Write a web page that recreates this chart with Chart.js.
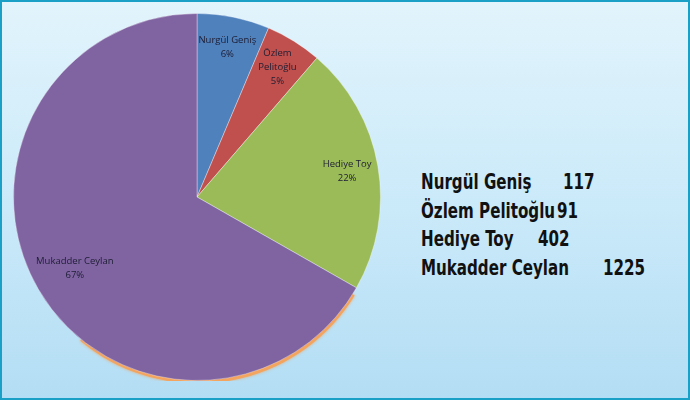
<!DOCTYPE html>
<html>
<head>
<meta charset="utf-8">
<script src="https://cdn.jsdelivr.net/npm/chart.js@4.4.0/dist/chart.umd.min.js"></script>
<style>
    html, body { margin: 0; padding: 0; }
    body {
        width: 690px; height: 400px; box-sizing: border-box;
        border: 2px solid #1a9fc6;
        background: linear-gradient(to bottom, #e2f4fc 0%, #c9e9f9 55%, #b3ddf4 100%);
        position: relative; overflow: hidden;
    }
    .pieBox { position: absolute; left: 11px; top: 11px; width: 368px; height: 368px; }
    .counts {
        position: absolute; left: 419px; top: 166px;
        font-family: "DejaVu Sans Condensed", "DejaVu Sans", sans-serif;
        font-weight: bold; font-size: 21px; color: #111;
    }
    .row { position: relative; height: 28.5px; line-height: 28.5px; white-space: nowrap; }
    .row span { position: absolute; top: 0; transform: scaleX(0.8); transform-origin: left center; }
</style>
</head>
<body>
<div class="pieBox"><canvas id="pieChart"></canvas></div>
<div class="counts"></div>
<script>
    const names = ['Nurgül Geniş', 'Özlem Pelitoğlu', 'Hediye Toy', 'Mukadder Ceylan']
    const counts = [117, 91, 402, 1225]
    const percents = ['6%', '5%', '22%', '67%']
    const colors = ['#4f81bd', '#c0504d', '#9bbb59', '#8064a2']

    // where the numbers start in each row on the right (px from the text's left)
    const numberLeft = [142, 136, 117, 182]

    const countsBox = document.querySelector('.counts')
    names.forEach((n, i) => {
        const row = document.createElement('div')
        row.className = 'row'
        row.innerHTML = `<span style="left:0">${n}</span><span style="left:${numberLeft[i]}px">${counts[i]}</span>`
        countsBox.appendChild(row)
    })

    // orange glow under the bottom edge of the big slice
    const glowPlugin = {
        id: 'glow',
        beforeDatasetsDraw(chart) {
            const arc = chart.getDatasetMeta(0).data[3]
            if (!arc) return
            const { x, y, startAngle, outerRadius } = arc.getProps(['x', 'y', 'startAngle', 'outerRadius'], true)
            const ctx = chart.ctx
            ctx.save()
            ctx.shadowColor = 'rgba(245,160,80,0.9)'
            ctx.shadowBlur = 3
            ctx.fillStyle = '#f3a45e'
            ctx.beginPath()
            ctx.moveTo(x + 1, y + 3)
            ctx.arc(x + 1, y + 3, outerRadius, startAngle + 0.03, startAngle + 1.75)
            ctx.closePath()
            ctx.fill()
            ctx.restore()
        }
    }

    const labelPlugin = {
        id: 'sliceLabels',
        afterDatasetsDraw(chart) {
            const ctx = chart.ctx
            const meta = chart.getDatasetMeta(0)
            ctx.save()
            ctx.font = '9.5px "Open Sans", sans-serif'
            ctx.fillStyle = '#1d1d33'
            ctx.textAlign = 'center'
            ctx.textBaseline = 'middle'
            meta.data.forEach((arc, i) => {
                const p = arc.getProps(['x', 'y', 'startAngle', 'endAngle', 'outerRadius'], true)
                const mid = (p.startAngle + p.endAngle) / 2
                const r = p.outerRadius * (i == 3 ? 0.77 : 0.83)
                const cx = p.x + Math.cos(mid) * r
                const cy = p.y + Math.sin(mid) * r
                let lines = [names[i], percents[i]]
                if (i == 1) lines = names[i].split(' ').concat(percents[i])
                const lh = 14
                lines.forEach((t, k) => {
                    ctx.fillText(t, cx, cy + (k - (lines.length - 1) / 2) * lh)
                })
            })
            ctx.restore()
        }
    }

    new Chart(document.getElementById('pieChart'), {
        type: 'pie',
        data: {
            labels: names,
            datasets: [{
                data: counts,
                backgroundColor: colors,
                borderColor: 'rgba(255,255,255,0.35)',
                borderWidth: 1
            }]
        },
        options: {
            responsive: true,
            maintainAspectRatio: false,
            animation: false,
            layout: { padding: 0 },
            plugins: { legend: { display: false }, tooltip: { enabled: false } }
        },
        plugins: [glowPlugin, labelPlugin]
    })
</script>
</body>
</html>
